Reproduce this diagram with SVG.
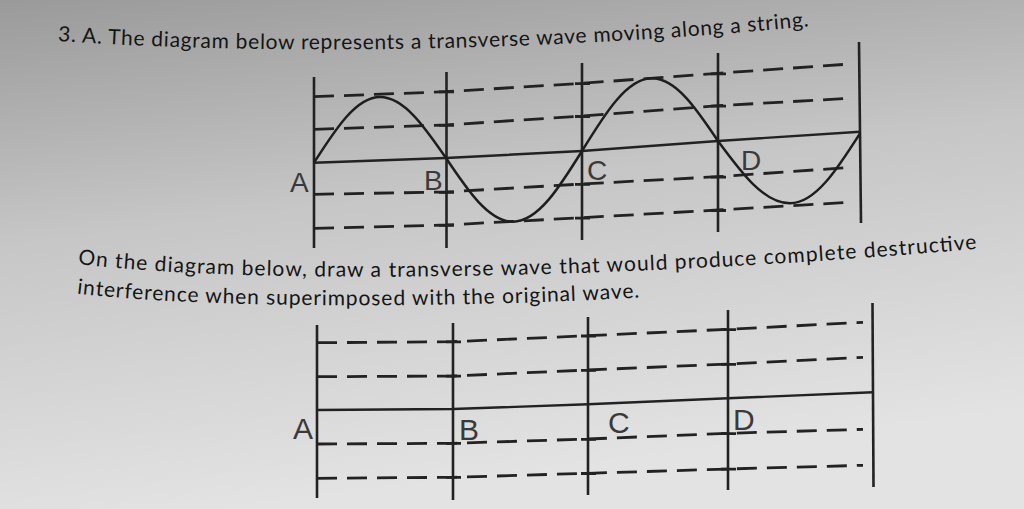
<svg xmlns="http://www.w3.org/2000/svg" width="1024" height="509" viewBox="0 0 1024 509">
<defs>
<linearGradient id="bg" x1="0" y1="0" x2="0.25" y2="1">
<stop offset="0" stop-color="#9a9a9a"/>
<stop offset="0.45" stop-color="#c6c6c6"/>
<stop offset="1" stop-color="#e3e3e3"/>
</linearGradient>
<path id="l1" d="M 58,41 C 250,54 520,54 812,26"/>
<path id="l2" d="M 78,264 C 250,285 620,280 975,249"/>
<path id="l3" d="M 77,293.5 C 200,308.5 450,308.5 640,297.5"/>
</defs>
<style>
.txt{font-family:Lato,"Open Sans","Liberation Sans",sans-serif;font-size:21px;fill:#151515}
.lbl{font-family:"Liberation Sans",Arial,sans-serif;fill:#3a3a3a}
.v{stroke:#222;stroke-width:2.6;fill:none}
.c{stroke:#222;stroke-width:2.4;fill:none}
.d{stroke:#222;stroke-width:2.8;fill:none;stroke-dasharray:20 10}
.t{stroke:#222;stroke-width:2.8;fill:none}
.w{stroke:#1e1e1e;stroke-width:2.5;fill:none}
</style>
<rect width="1024" height="509" fill="url(#bg)"/>
<g id="question-text">
<text class="txt"><textPath href="#l1" textLength="752" lengthAdjust="spacing">3. A. The diagram below represents a transverse wave moving along a string.</textPath></text>
<text class="txt"><textPath href="#l2" textLength="900" lengthAdjust="spacing">On the diagram below, draw a transverse wave that would produce complete destructive</textPath></text>
<text class="txt"><textPath href="#l3" textLength="563" lengthAdjust="spacing">interference when superimposed with the original wave.</textPath></text>
</g>
<g id="top-diagram">
<g id="top-grid">
<line class="v" x1="314" y1="77" x2="314" y2="248"/>
<line class="v" x1="446.5" y1="72" x2="446.5" y2="248"/>
<line class="v" x1="582" y1="63" x2="582" y2="240"/>
<line class="v" x1="718" y1="53" x2="718" y2="232"/>
<line class="v" x1="859" y1="42" x2="861" y2="223"/>
<polyline class="d" points="314,96.7 446,91.7 582,83.3 718,73.3 850,64"/>
<polyline class="d" points="314,129.3 446,125 582,116 718,105.7 850,98.3"/>
<polyline class="c" points="314,162.7 446,158 582,151 718,141 860,131.7"/>
<polyline class="d" points="314,194.3 446,192 582,184 718,176.7 850,167.4"/>
<polyline class="d" points="314,228.3 446,225 582,217.7 718,210 850,202.3"/>
<path class="t" d="M439,91.9h15 M575,83.7h15 M711,73.8h15 M439,125.3h15 M575,116.5h15 M711,106.2h15 M439,192.3h15 M575,184.4h15 M711,177.2h15 M439,225.3h15 M575,218.1h15 M711,210.5h15"/>
</g>
<path id="wave" class="w" d="M314,162.7 C335.5,129 356.1,97 380,97 C403.9,97 424.5,126.7 446,158 C467.8,190.6 488.8,221.7 513,221.7 C538,221.7 559.5,187.2 582,151 C604.8,113.8 626.7,78.3 652,78.3 C675.9,78.3 696.5,108.9 718,141 C741.5,172.9 763.9,203.3 790,203.3 C815.3,203.3 837.2,169.2 860,133.3"/>
<g id="top-A"><text class="lbl" x="290" y="191.5" font-size="28">A</text></g>
<g id="top-B"><text class="lbl" x="424" y="190" font-size="28">B</text></g>
<g id="top-C"><text class="lbl" x="587" y="180" font-size="28">C</text></g>
<g id="top-D"><text class="lbl" x="741" y="170" font-size="28">D</text></g>
</g>
<g id="bottom-diagram">
<g id="bottom-grid">
<line class="v" x1="317" y1="325" x2="317" y2="498"/>
<line class="v" x1="453" y1="323" x2="453" y2="500"/>
<line class="v" x1="588" y1="317" x2="588" y2="495"/>
<line class="v" x1="728" y1="310" x2="728" y2="490"/>
<line class="v" x1="872.5" y1="303" x2="873.5" y2="487"/>
<polyline class="d" points="317,342.7 453,341.7 588,335.7 728,329.3 863,322.3"/>
<polyline class="d" points="317,376.7 453,376 588,370 728,364 863,357.3"/>
<polyline class="c" points="317,410 453,409 588,404.3 728,398.3 873,392.3"/>
<polyline class="d" points="317,444 453,443.3 588,439 728,433.3 863,429.3"/>
<polyline class="d" points="317,478.3 453,477.3 588,473.3 728,469 863,465.3"/>
<path class="t" d="M446,341.8h15 M581,336h15 M721,329.6h15 M446,376.1h15 M581,370.3h15 M721,364.3h15 M446,443.4h15 M581,439.3h15 M721,433.6h15 M446,477.4h15 M581,473.5h15 M721,469.2h15"/>
</g>
<g id="bottom-A"><text class="lbl" x="293" y="439" font-size="30">A</text></g>
<g id="bottom-B"><text class="lbl" x="459" y="440" font-size="30">B</text></g>
<g id="bottom-C"><text class="lbl" x="608" y="433" font-size="30">C</text></g>
<g id="bottom-D"><text class="lbl" x="733" y="430" font-size="30">D</text></g>
</g>
</svg>
